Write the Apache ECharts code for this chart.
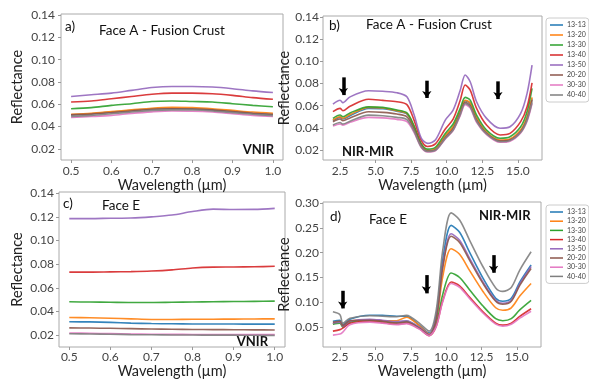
<!DOCTYPE html>
<html><head><meta charset="utf-8">
<script src="https://cdn.jsdelivr.net/npm/echarts@6/dist/echarts.min.js"></script>
<style>html,body{margin:0;padding:0;background:#fff}#c{width:589px;height:385px}</style>
</head><body><div id="c"></div>
<script>
// ---------- data ----------
const names = ['13-13','13-20','13-30','13-40','13-50','20-20','30-30','40-40'];
const colors = ['#1f77b4','#ff7f0e','#2ca02c','#d62728','#9467bd','#8c564b','#e377c2','#7f7f7f'];

const vnirTicks = [0.5,0.6,0.7,0.8,0.9,1.0];
const mirTicks = [2.5,5.0,7.5,10.0,12.5,15.0];
const reflTicksLow = [0.02,0.04,0.06,0.08,0.10,0.12,0.14];
const reflTicksHigh = [0.05,0.10,0.15,0.20,0.25,0.30];

// a) Face A VNIR
const wlA = [0.5,0.55,0.6,0.65,0.7,0.75,0.8,0.85,0.9,0.95,1.0];
const faceA_VNIR = [
  [0.0505,0.0515,0.053,0.0545,0.056,0.0565,0.056,0.055,0.0535,0.052,0.051],
  [0.051,0.052,0.0535,0.055,0.0565,0.0572,0.057,0.056,0.0545,0.053,0.052],
  [0.056,0.057,0.059,0.0605,0.0625,0.063,0.0625,0.062,0.0605,0.059,0.0578],
  [0.062,0.063,0.065,0.067,0.069,0.070,0.070,0.0695,0.068,0.066,0.0645],
  [0.067,0.0685,0.070,0.0725,0.075,0.076,0.076,0.0755,0.074,0.072,0.0705],
  [0.0505,0.0512,0.0525,0.054,0.0555,0.056,0.0558,0.055,0.0535,0.052,0.0508],
  [0.0482,0.049,0.050,0.0518,0.0532,0.054,0.0538,0.053,0.0515,0.050,0.049],
  [0.049,0.050,0.0515,0.053,0.0545,0.055,0.0548,0.054,0.0525,0.051,0.0498]
];

// b) Face A NIR-MIR
const wlB = [2.0,2.5,2.7,3.2,4.5,5.5,6.5,7.2,7.7,8.2,8.65,9.2,9.9,10.45,10.95,11.3,11.65,12.1,12.8,13.75,14.45,15.2,15.65,16.0];
const faceA_MIR = [
  [0.0465,0.0495,0.048,0.051,0.0575,0.0572,0.055,0.0525,0.0405,0.0248,0.0195,0.0208,0.0325,0.0405,0.0545,0.0645,0.062,0.0485,0.0355,0.0285,0.0295,0.0375,0.049,0.0665],
  [0.0471,0.050,0.0487,0.052,0.0585,0.058,0.0555,0.053,0.041,0.025,0.0197,0.021,0.033,0.041,0.055,0.065,0.0625,0.049,0.036,0.029,0.030,0.038,0.050,0.0676],
  [0.0486,0.0516,0.0501,0.0535,0.059,0.0585,0.0561,0.0535,0.042,0.026,0.0208,0.0225,0.035,0.0435,0.0576,0.0675,0.065,0.0516,0.038,0.0306,0.032,0.041,0.0546,0.0757],
  [0.0546,0.0576,0.0555,0.0595,0.0658,0.0648,0.0636,0.061,0.047,0.029,0.0232,0.0255,0.039,0.048,0.065,0.0787,0.074,0.0576,0.0426,0.0336,0.035,0.0456,0.059,0.0807],
  [0.0615,0.065,0.0627,0.068,0.0735,0.073,0.0717,0.068,0.052,0.031,0.026,0.029,0.047,0.056,0.074,0.0877,0.0816,0.0636,0.0486,0.0396,0.041,0.0531,0.0712,0.0967],
  [0.0456,0.048,0.0465,0.049,0.0545,0.054,0.0525,0.050,0.039,0.024,0.019,0.020,0.031,0.039,0.053,0.063,0.060,0.047,0.035,0.028,0.029,0.0365,0.048,0.065],
  [0.0416,0.0435,0.0425,0.045,0.0495,0.049,0.0477,0.0456,0.036,0.0225,0.0182,0.0193,0.030,0.0375,0.051,0.061,0.058,0.045,0.034,0.027,0.028,0.0355,0.046,0.062],
  [0.0426,0.0448,0.0435,0.046,0.0515,0.051,0.0495,0.0475,0.037,0.023,0.0188,0.0198,0.0305,0.038,0.052,0.062,0.059,0.046,0.0345,0.0275,0.0285,0.036,0.047,0.063]
];

// c) Face E VNIR
const wlC = [0.5,0.55,0.6,0.65,0.7,0.75,0.8,0.85,0.9,0.95,1.0];
const faceE_VNIR = [
  [0.0313,0.0312,0.0308,0.0302,0.0298,0.0296,0.0295,0.0295,0.0294,0.0293,0.0293],
  [0.0349,0.0347,0.0343,0.0338,0.0333,0.0333,0.0334,0.0335,0.0336,0.0337,0.0338],
  [0.0482,0.048,0.0478,0.0476,0.0476,0.0478,0.048,0.0483,0.0484,0.0486,0.0488],
  [0.0733,0.0733,0.0735,0.0737,0.0742,0.0752,0.0768,0.0775,0.0776,0.0778,0.0782],
  [0.1185,0.1185,0.1188,0.119,0.120,0.1215,0.1245,0.1265,0.1262,0.1263,0.1272],
  [0.0262,0.026,0.0258,0.0255,0.0252,0.025,0.0248,0.0247,0.0246,0.0245,0.0244],
  [0.0218,0.0216,0.0213,0.021,0.0208,0.0207,0.0206,0.0206,0.0205,0.0205,0.0205],
  [0.0212,0.021,0.0208,0.0205,0.0203,0.0202,0.0201,0.020,0.020,0.0199,0.0198]
];

// d) Face E NIR-MIR
const wlD = [2.0,2.5,2.7,3.2,4.6,5.5,6.5,7.2,8.1,8.8,9.3,9.76,10.35,10.95,11.65,12.6,13.5,14.0,14.6,15.2,16.0];
const faceE_MIR = [
  [0.062,0.064,0.055,0.066,0.074,0.074,0.072,0.072,0.054,0.038,0.075,0.186,0.255,0.241,0.201,0.1486,0.108,0.102,0.108,0.1404,0.175],
  [0.057,0.060,0.052,0.062,0.065,0.063,0.063,0.070,0.053,0.036,0.064,0.152,0.208,0.1967,0.1643,0.1219,0.089,0.084,0.089,0.1126,0.138],
  [0.056,0.058,0.050,0.060,0.063,0.061,0.059,0.062,0.049,0.034,0.056,0.116,0.159,0.150,0.1253,0.0925,0.067,0.063,0.067,0.0848,0.104],
  [0.042,0.045,0.048,0.058,0.062,0.059,0.056,0.058,0.047,0.033,0.052,0.103,0.141,0.1331,0.1105,0.0808,0.058,0.054,0.058,0.0716,0.087],
  [0.058,0.060,0.052,0.062,0.066,0.064,0.061,0.063,0.050,0.035,0.068,0.174,0.238,0.225,0.189,0.141,0.104,0.098,0.104,0.137,0.172],
  [0.060,0.062,0.053,0.063,0.064,0.062,0.058,0.060,0.048,0.034,0.066,0.170,0.233,0.2205,0.185,0.138,0.102,0.096,0.102,0.134,0.168],
  [0.034,0.036,0.040,0.055,0.060,0.058,0.055,0.057,0.046,0.033,0.051,0.101,0.138,0.1302,0.1078,0.0785,0.056,0.052,0.056,0.068,0.082],
  [0.081,0.075,0.058,0.068,0.073,0.072,0.071,0.074,0.058,0.042,0.0843,0.205,0.280,0.2657,0.2254,0.1716,0.129,0.122,0.130,0.165,0.2018]
];

// arrows: [x, yStart, yEnd]
const arrowsB = [[2.73,0.0856,0.0696],[8.6,0.0826,0.0670],[13.6,0.0820,0.0660]];
const arrowsD = [[2.69,0.1232,0.0877],[8.6,0.1548,0.1180],[13.35,0.1950,0.1595]];

// ---------- chart ----------
const FONT = 'Lato';
const chart = echarts.init(document.getElementById('c'));
const grids = [
  {left:61, top:14, width:222, height:146},
  {left:323, top:16, width:219, height:144},
  {left:59, top:192, width:226, height:155},
  {left:323, top:202, width:218, height:145}
];
function xAx(i, min, max, ticks, nameGap, labelMargin){
  return {type:'value', gridIndex:i, min:min, max:max,
    name:'Wavelength (µm)', nameLocation:'middle', nameGap:nameGap,
    nameTextStyle:{fontFamily:FONT, fontSize:14.5, color:'#222'},
    axisLine:{show:false},
    axisTick:{show:true, length:3, customValues:ticks, lineStyle:{color:'#999'}},
    axisLabel:{customValues:ticks, formatter:v=>v.toFixed(1), fontFamily:FONT, fontSize:12, color:'#444', margin:labelMargin},
    splitLine:{show:false}};
}
function yAx(i, min, max, ticks, dec, nameGap, labelMargin){
  return {type:'value', gridIndex:i, min:min, max:max,
    name:'Reflectance', nameLocation:'middle', nameGap:nameGap,
    nameTextStyle:{fontFamily:FONT, fontSize:14.5, color:'#222'},
    axisLine:{show:false},
    axisTick:{show:true, length:3, customValues:ticks, lineStyle:{color:'#999'}},
    axisLabel:{customValues:ticks, formatter:v=>v.toFixed(dec), fontFamily:FONT, fontSize:12, color:'#444', margin:labelMargin},
    splitLine:{show:false}};
}
const series = [];
function addPanel(i, wl, vals){
  vals.forEach((arr, j) => {
    series.push({type:'line', name:names[j], xAxisIndex:i, yAxisIndex:i,
      data: wl.map((x,k)=>[x, arr[k]]), showSymbol:false, smooth:0.3,
      color:colors[j], lineStyle:{width:1.6, color:colors[j], opacity:0.9}, silent:true, animation:false});
  });
}
addPanel(0, wlA, faceA_VNIR);
addPanel(1, wlB, faceA_MIR);
addPanel(2, wlC, faceE_VNIR);
addPanel(3, wlD, faceE_MIR);
function addArrows(i, arr){
  series.push({type:'line', xAxisIndex:i, yAxisIndex:i, data:[], silent:true, animation:false,
    markLine:{silent:true, symbol:['none','arrow'], symbolSize:[7,7], label:{show:false},
      lineStyle:{color:'#000', width:3.5, type:'solid'}, emphasis:{disabled:true},
      data: arr.map(a=>[{coord:[a[0],a[1]]},{coord:[a[0],a[2]]}])}});
}
addArrows(1, arrowsB);
addArrows(3, arrowsD);

function legendAt(top, gap){
  return {data:names, orient:'vertical', left:546, top:top, padding:[3,3,3,4], itemGap:gap,
    icon:'rect', itemWidth:13, itemHeight:1.5, itemStyle:{borderWidth:0},
    textStyle:{fontFamily:FONT, fontSize:7, color:'#444', lineHeight:8, padding:[0,0,0,-1]},
    borderColor:'#ccc', borderWidth:1, borderRadius:3, backgroundColor:'#fff', selectedMode:false};
}
function txt(x, y, s, size, bold, align){
  return {type:'text', x:x, y:y, style:{text:s, fontFamily:FONT, fontSize:size,
    fontWeight:bold?'bold':'normal', fill:'#111', textAlign:align||'left', textVerticalAlign:'middle'}, silent:true};
}
chart.setOption({
  animation:false,
  grid: grids.map(g=>Object.assign({show:true, borderColor:'#aaa', borderWidth:1, backgroundColor:'#fff'}, g)),
  xAxis:[xAx(0,0.475,1.025,vnirTicks,15,5), xAx(1,1.3,16.7,mirTicks,17,5), xAx(2,0.475,1.025,vnirTicks,17,4), xAx(3,1.3,16.7,mirTicks,17,4)],
  yAxis:[yAx(0,0.01,0.141,reflTicksLow,2,36,6), yAx(1,0.011,0.141,reflTicksLow,2,28,4), yAx(2,0.01,0.141,reflTicksLow,2,34,5), yAx(3,0.01,0.302,reflTicksHigh,2,28,4)],
  legend:[legendAt(18,2), legendAt(205,1.2)],
  series: series,
  graphic: [
    txt(65,27,'a)',13.5), txt(162,31,'Face A - Fusion Crust',13.5,false,'center'), txt(274,150,'VNIR',13,true,'right'),
    txt(329,26,'b)',13.5), txt(429,25,'Face A - Fusion Crust',13.5,false,'center'), txt(342,152,'NIR-MIR',13,true),
    txt(63,204,'c)',13.5), txt(102,206,'Face E',13.5), txt(268,342,'VNIR',13,true,'right'),
    txt(330,217,'d)',13.5), txt(369,220,'Face E',13.5), txt(479,216,'NIR-MIR',13,true)
  ]
});
</script></body></html>
